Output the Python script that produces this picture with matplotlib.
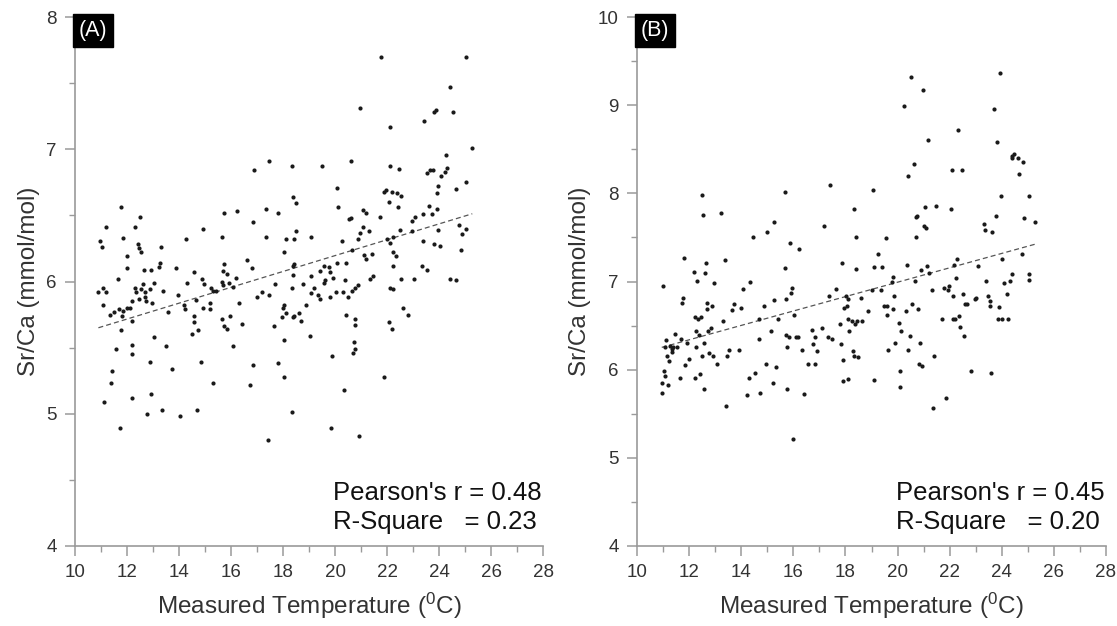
import numpy as np
import matplotlib
matplotlib.use("Agg")
import matplotlib.pyplot as plt
from matplotlib.ticker import MultipleLocator

plt.rcParams['font.family'] = ['Liberation Sans', 'DejaVu Sans']
plt.rcParams['mathtext.fontset'] = 'custom'
plt.rcParams['mathtext.rm'] = 'Liberation Sans'

# (A) measured temperature vs Sr/Ca
temp_a = [17.46, 16.90, 11.76, 12.50, 11.19, 12.31, 11.86, 15.73, 16.22, 17.35,
          17.82, 16.86, 14.93, 14.27, 15.65, 17.35, 18.12, 10.98, 11.02, 12.42,
          12.46, 13.30, 12.01, 12.53, 18.05, 16.63, 12.01, 12.67, 12.92, 13.23,
          13.27, 13.88, 15.73, 15.70, 15.86, 16.80, 14.58, 16.18, 11.67, 14.32,
          14.87, 14.96, 15.64, 15.68, 15.93, 16.07, 12.63, 13.05, 12.31, 12.35,
          12.53, 12.69, 12.88, 13.37, 17.69, 11.07, 10.90, 11.19, 15.22, 15.32,
          15.42, 13.97, 16.99, 17.18, 17.47, 12.69, 12.47, 12.73, 12.18, 12.95,
          14.65, 15.19, 16.32, 11.09, 12.01, 14.20, 14.23, 14.93, 15.19, 11.86,
          11.70, 11.50, 11.35, 11.80, 12.12, 13.59, 18.05, 17.99, 17.95, 14.58,
          15.96, 15.67, 12.18, 14.58, 16.43, 17.67, 15.73, 15.83, 11.76, 14.74,
          14.49, 13.05, 18.05, 12.20, 13.50, 16.07, 11.57, 12.18, 12.88, 14.85,
          16.86, 17.82, 13.72, 11.41, 18.05, 11.37, 15.30, 16.73, 12.91, 12.18,
          11.12, 13.36, 14.68, 12.78, 14.04, 11.73, 17.43, 21.77, 25.03, 24.42,
          20.97, 23.81, 23.88, 24.53, 23.42, 22.12, 25.28, 24.27, 18.33, 19.51,
          20.62, 22.12, 22.46, 23.53, 23.65, 23.78, 24.32, 24.23, 24.07, 25.04,
          20.07, 23.97, 24.65, 21.88, 21.96, 22.18, 22.37, 22.53, 23.91, 18.37,
          18.49, 22.08, 22.43, 20.13, 23.63, 23.93, 21.09, 21.19, 23.40, 23.74,
          23.08, 21.73, 22.95, 20.55, 20.62, 24.78, 25.04, 24.87, 23.97, 21.09,
          20.96, 21.32, 22.50, 22.95, 23.37, 23.82, 24.04, 22.12, 22.24, 21.99,
          18.49, 18.42, 19.07, 20.28, 20.87, 20.64, 24.83, 22.22, 22.35, 21.13,
          21.19, 21.41, 18.42, 18.40, 19.58, 19.77, 20.09, 20.42, 22.24, 23.36,
          23.53, 19.42, 19.81, 18.37, 19.07, 19.93, 19.62, 19.58, 20.38, 21.35,
          21.47, 22.53, 23.05, 24.42, 24.65, 18.78, 18.33, 19.19, 20.90, 20.77,
          20.64, 22.12, 22.24, 19.07, 19.33, 19.42, 20.04, 20.32, 19.81, 20.51,
          18.88, 18.12, 18.37, 18.42, 18.63, 18.68, 22.63, 22.82, 20.42, 20.77,
          20.77, 22.09, 22.18, 19.04, 20.73, 20.77, 20.68, 19.87, 21.90, 20.36,
          18.33, 19.83, 20.92]
srca_a = [6.91, 6.84, 6.56, 6.49, 6.41, 6.41, 6.33, 6.52, 6.53, 6.55,
          6.52, 6.45, 6.40, 6.32, 6.34, 6.34, 6.32, 6.31, 6.26, 6.28,
          6.25, 6.26, 6.19, 6.22, 6.22, 6.16, 6.10, 6.09, 6.09, 6.11,
          6.14, 6.10, 6.13, 6.08, 6.06, 6.10, 6.07, 6.03, 6.02, 5.99,
          6.02, 5.98, 6.00, 5.97, 5.99, 5.96, 5.98, 5.99, 5.95, 5.92,
          5.94, 5.92, 5.94, 5.93, 5.98, 5.95, 5.92, 5.92, 5.95, 5.93,
          5.93, 5.90, 5.88, 5.92, 5.90, 5.88, 5.87, 5.85, 5.85, 5.84,
          5.86, 5.84, 5.84, 5.82, 5.80, 5.82, 5.79, 5.80, 5.79, 5.78,
          5.79, 5.77, 5.75, 5.74, 5.80, 5.77, 5.82, 5.80, 5.73, 5.74,
          5.74, 5.72, 5.70, 5.69, 5.68, 5.66, 5.66, 5.64, 5.63, 5.63,
          5.60, 5.58, 5.56, 5.52, 5.51, 5.51, 5.49, 5.45, 5.39, 5.39,
          5.37, 5.38, 5.34, 5.32, 5.28, 5.23, 5.23, 5.22, 5.15, 5.12,
          5.09, 5.03, 5.03, 5.00, 4.98, 4.89, 4.80, 7.70, 7.70, 7.47,
          7.31, 7.28, 7.30, 7.28, 7.21, 7.17, 7.01, 6.96, 6.87, 6.87,
          6.91, 6.87, 6.85, 6.82, 6.84, 6.84, 6.86, 6.83, 6.80, 6.75,
          6.71, 6.72, 6.70, 6.68, 6.69, 6.68, 6.67, 6.65, 6.67, 6.64,
          6.59, 6.60, 6.56, 6.56, 6.57, 6.55, 6.54, 6.52, 6.51, 6.51,
          6.49, 6.49, 6.46, 6.47, 6.48, 6.43, 6.40, 6.36, 6.39, 6.41,
          6.37, 6.38, 6.39, 6.38, 6.31, 6.28, 6.27, 6.29, 6.34, 6.32,
          6.38, 6.32, 6.34, 6.31, 6.32, 6.24, 6.24, 6.22, 6.19, 6.20,
          6.17, 6.21, 6.13, 6.12, 6.12, 6.11, 6.14, 6.14, 6.12, 6.12,
          6.09, 6.08, 6.07, 6.05, 6.04, 6.03, 6.01, 5.99, 6.01, 6.02,
          6.04, 6.02, 6.02, 6.02, 6.01, 5.98, 5.95, 5.95, 5.97, 5.95,
          5.93, 5.95, 5.94, 5.91, 5.90, 5.87, 5.92, 5.92, 5.88, 5.88,
          5.82, 5.76, 5.73, 5.74, 5.76, 5.70, 5.80, 5.75, 5.75, 5.72,
          5.67, 5.69, 5.64, 5.59, 5.54, 5.49, 5.46, 5.44, 5.28, 5.18,
          5.01, 4.89, 4.83]

# (B) measured temperature vs Sr/Ca
temp_b = [10.95, 11.00, 10.97, 11.02, 11.06, 11.09, 11.12, 11.16, 11.20, 11.23,
          11.26, 11.34, 11.36, 11.39, 11.46, 11.53, 11.66, 11.70, 11.73, 11.77,
          11.79, 11.83, 11.91, 12.00, 12.18, 12.21, 12.22, 12.25, 12.28, 12.32,
          12.35, 12.37, 12.41, 12.44, 12.48, 12.51, 12.55, 12.56, 12.59, 12.62,
          12.65, 12.67, 12.70, 12.74, 12.76, 12.84, 12.89, 12.92, 12.95, 13.07,
          13.21, 13.30, 13.38, 13.41, 13.44, 13.55, 13.66, 13.74, 13.92, 13.98,
          14.05, 14.23, 14.28, 14.34, 14.46, 14.53, 14.67, 14.69, 14.73, 14.87,
          14.94, 14.98, 15.16, 15.21, 15.24, 15.27, 15.35, 15.42, 15.68, 15.69,
          15.71, 15.73, 15.76, 15.76, 15.83, 15.88, 15.92, 15.96, 15.98, 16.03,
          16.10, 16.17, 16.23, 16.33, 16.40, 16.58, 16.71, 16.77, 16.82, 16.85,
          16.92, 17.09, 17.16, 17.33, 17.37, 17.42, 17.50, 17.64, 17.80, 17.83,
          17.87, 17.89, 17.91, 17.94, 18.02, 18.05, 18.08, 18.09, 18.10, 18.14,
          18.24, 18.30, 18.31, 18.34, 18.35, 18.41, 18.41, 18.45, 18.49, 18.59,
          18.62, 18.87, 19.00, 19.06, 19.10, 19.11, 19.24, 19.37, 19.41, 19.47,
          19.55, 19.58, 19.60, 19.65, 19.78, 19.81, 19.82, 19.85, 19.92, 20.05,
          20.08, 20.10, 20.15, 20.26, 20.33, 20.37, 20.40, 20.42, 20.46, 20.53,
          20.57, 20.64, 20.67, 20.70, 20.71, 20.74, 20.78, 20.83, 20.87, 20.89,
          20.94, 20.97, 21.00, 21.05, 21.10, 21.14, 21.17, 21.21, 21.32, 21.35,
          21.38, 21.49, 21.69, 21.79, 21.87, 21.93, 21.96, 22.07, 22.10, 22.13,
          22.14, 22.17, 22.19, 22.24, 22.27, 22.31, 22.37, 22.41, 22.47, 22.51,
          22.55, 22.58, 22.65, 22.82, 22.96, 23.01, 23.10, 23.30, 23.37, 23.40,
          23.47, 23.54, 23.56, 23.60, 23.64, 23.70, 23.78, 23.81, 23.88, 23.84,
          23.94, 23.98, 24.00, 24.02, 24.07, 24.20, 24.24, 24.30, 24.38, 24.40,
          24.46, 24.40, 24.62, 24.65, 24.76, 24.83, 24.87, 25.03, 25.03, 25.06,
          25.28]
srca_b = [5.74, 6.95, 5.85, 5.98, 6.26, 5.93, 6.34, 6.16, 5.83, 6.10,
          6.27, 6.23, 6.20, 6.26, 6.41, 6.26, 5.90, 6.35, 6.76, 6.81,
          7.27, 6.05, 6.30, 6.12, 7.11, 6.60, 5.90, 6.44, 6.26, 7.01,
          6.58, 6.39, 5.95, 6.60, 6.16, 7.98, 7.75, 5.78, 6.30, 7.10,
          7.21, 6.69, 6.76, 6.44, 6.19, 6.47, 6.72, 6.16, 6.98, 6.06,
          7.78, 6.55, 7.24, 5.59, 6.16, 6.22, 6.68, 6.75, 6.22, 6.70,
          6.92, 5.71, 5.90, 6.99, 7.51, 5.96, 6.58, 6.35, 5.74, 6.72,
          6.06, 7.56, 6.44, 5.85, 6.79, 7.67, 6.03, 6.58, 8.01, 7.15,
          6.80, 6.39, 6.26, 5.78, 6.37, 7.44, 6.87, 6.93, 5.21, 6.62,
          6.37, 6.37, 7.37, 6.22, 5.72, 6.06, 6.45, 6.29, 6.06, 6.37,
          6.21, 6.47, 7.63, 6.37, 6.84, 8.09, 6.35, 6.92, 6.52, 6.29,
          7.21, 6.11, 5.87, 6.70, 6.84, 6.72, 5.89, 6.80, 6.58, 6.44,
          6.55, 6.21, 7.82, 6.15, 6.52, 7.51, 7.14, 6.55, 6.14, 6.81,
          6.55, 6.67, 6.90, 8.04, 5.88, 7.16, 7.31, 6.90, 7.16, 6.72,
          7.49, 6.72, 6.62, 6.22, 6.99, 7.05, 6.69, 6.83, 6.30, 6.53,
          5.98, 5.80, 6.44, 8.99, 6.67, 7.19, 6.22, 8.20, 6.38, 9.32,
          6.74, 8.33, 7.01, 7.50, 7.73, 7.74, 6.69, 6.06, 6.30, 7.13,
          6.04, 9.17, 7.63, 7.85, 7.61, 7.18, 8.61, 7.10, 6.90, 5.57,
          6.15, 7.86, 6.58, 6.93, 5.68, 6.90, 6.95, 7.82, 8.27, 6.83,
          6.58, 7.19, 6.58, 7.04, 7.26, 8.72, 6.61, 6.48, 8.27, 6.86,
          6.38, 6.74, 6.74, 5.98, 6.80, 6.81, 7.18, 7.65, 7.58, 7.01,
          6.84, 6.72, 6.78, 5.96, 7.56, 8.96, 7.74, 8.58, 6.71, 6.58,
          9.37, 7.97, 7.25, 6.58, 6.98, 6.86, 6.58, 7.01, 8.42, 8.40,
          8.45, 7.08, 8.40, 8.22, 7.31, 8.35, 7.72, 7.97, 7.08, 7.02,
          7.67]

panel_tags = ["(A)", "(B)"]
stats_text = ["Pearson's r = 0.48\nR-Square   = 0.23",
              "Pearson's r = 0.45\nR-Square   = 0.20"]
y_limits = [(4, 8), (4, 10)]

axis_grey = '#9a9a9a'
text_col = '#333333'

fig = plt.figure(figsize=(11.17, 6.26), dpi=100)
ax_a = fig.add_axes([75 / 1117, 80 / 626, 468 / 1117, 529 / 626])
ax_b = fig.add_axes([637 / 1117, 80 / 626, 469 / 1117, 529 / 626])

for ax, x, y, tag, stats, ylim in zip([ax_a, ax_b], [temp_a, temp_b], [srca_a, srca_b],
                                      panel_tags, stats_text, y_limits):
    x = np.array(x)
    y = np.array(y)
    ax.scatter(x, y, s=9, c='#1a1a1a', marker='o', linewidths=0, zorder=3)

    # linear fit drawn as a dashed line across the data range
    slope, icpt = np.polyfit(x, y, 1)
    xf = np.array([x.min(), x.max()])
    ax.plot(xf, slope * xf + icpt, ls=(0, (4, 2.5)), color='#555555', lw=0.9, zorder=2)

    ax.set_xlim(10, 28)
    ax.set_ylim(*ylim)
    ax.xaxis.set_major_locator(MultipleLocator(2))
    ax.xaxis.set_minor_locator(MultipleLocator(1))
    ax.yaxis.set_major_locator(MultipleLocator(1))
    ax.yaxis.set_minor_locator(MultipleLocator(0.5))

    for side in ['top', 'right']:
        ax.spines[side].set_visible(False)
    for side in ['left', 'bottom']:
        ax.spines[side].set_color(axis_grey)
        ax.spines[side].set_linewidth(1.2)
    ax.tick_params(which='major', direction='out', length=7, width=1.1,
                   color=axis_grey, labelsize=13.5, labelcolor=text_col, pad=6)
    ax.tick_params(which='minor', direction='out', length=4, width=1.0, color=axis_grey)

    ax.set_ylabel("Sr/Ca (mmol/mol)", fontsize=17.5, color=text_col, labelpad=5)
    ax.set_xlabel(r"Measured Temperature ($\mathregular{^{0}}$C)", fontsize=17.5,
                  color=text_col, labelpad=7)

    ax.text(0.008, 0.994, tag, transform=ax.transAxes, ha='left', va='top',
            fontsize=15.5, color='white',
            bbox=dict(boxstyle='square,pad=0.28', fc='black', ec='black'))
    ax.text(0.552, 0.022, stats, transform=ax.transAxes, ha='left', va='bottom',
            fontsize=18.5, color='#111111', linespacing=1.3)

fig.savefig("out.png", dpi=100)
